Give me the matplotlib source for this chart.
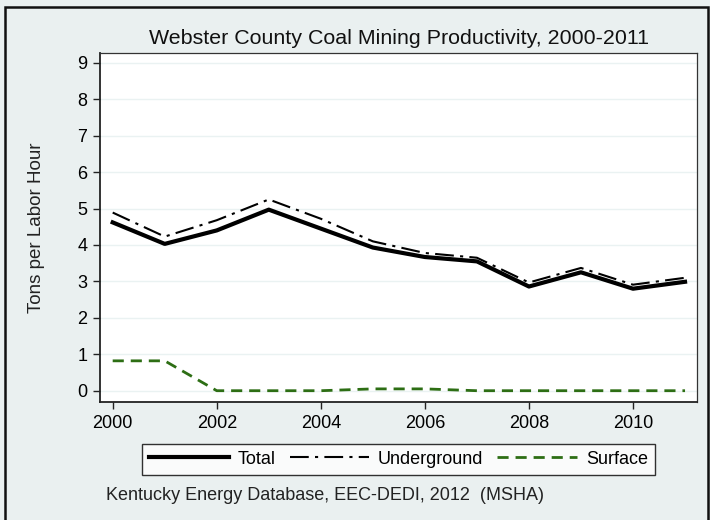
"""Webster County coal mining productivity chart."""

import matplotlib
matplotlib.use("Agg")
import matplotlib.pyplot as plt
from matplotlib.patches import Rectangle

years = [2000, 2001, 2002, 2003, 2004, 2005, 2006, 2007, 2008, 2009, 2010, 2011]
total = [4.62, 4.03, 4.40, 4.97, 4.45, 3.93, 3.67, 3.55, 2.86, 3.25, 2.80, 2.99]
underground = [4.89, 4.23, 4.68, 5.25, 4.72, 4.10, 3.78, 3.65, 2.97, 3.37, 2.91, 3.10]
surface = [0.82, 0.82, 0.0, 0.0, 0.0, 0.05, 0.05, 0.0, 0.0, 0.0, 0.0, 0.0]

y_ticks = list(range(0, 10))
x_ticks = [2000, 2002, 2004, 2006, 2008, 2010]

plt.rcParams["font.family"] = ["Liberation Sans", "DejaVu Sans"]

W, H = 710, 520
bg = "#eaf0f0"
fig = plt.figure(figsize=(W / 100, H / 100), dpi=100, facecolor=bg)

# outer frame
fig.patches.append(Rectangle((5 / W, -0.02), 703 / W, 1.02 - 7 / H, transform=fig.transFigure,
                             fill=False, edgecolor="#111111", linewidth=1.8))

ax = fig.add_axes([100 / W, 118 / H, 597 / W, 349 / H])
ax.set_facecolor("white")

for y in y_ticks:
    ax.axhline(y, color="#eaf2f2", linewidth=1.0, zorder=0)

ax.plot(years, total, color="black", linewidth=3.0, label="Total", solid_joinstyle="round")
ax.plot(years, underground, color="black", linewidth=1.5, dashes=(9, 3, 1.5, 3), label="Underground")
ax.plot(years, surface, color="#2d6e14", linewidth=2.0, dashes=(4, 2.5), label="Surface")

ax.set_xlim(1999.756, 2011.23)
ax.set_ylim(-0.31, 9.27)
ax.set_xticks(x_ticks)
ax.set_yticks(y_ticks)
ax.tick_params(axis="both", direction="out", length=5, width=1, color="#222222", labelsize=13, pad=4)

for side in ("left", "bottom"):
    ax.spines[side].set_color("#222222")
    ax.spines[side].set_linewidth(1.3)
for side in ("top", "right"):
    ax.spines[side].set_color("#333333")
    ax.spines[side].set_linewidth(0.9)

ax.set_ylabel("Tons per Labor Hour", fontsize=13.5, color="#222222")
ax.yaxis.set_label_coords(-55 / 597, 0.5)

fig.text(399 / W, 1 - 39 / H, "Webster County Coal Mining Productivity, 2000-2011",
         ha="center", va="center", fontsize=15.4, color="#111111")

leg = fig.legend(loc="lower left", bbox_to_anchor=(142 / W, 1 - 475 / H, 513 / W, 33 / H),
                 mode="expand", ncol=3, fontsize=13, frameon=True, fancybox=False,
                 edgecolor="black", handlelength=4.4, handletextpad=0.5, borderaxespad=0,
                 columnspacing=1.2, borderpad=0.4)
leg.get_frame().set_linewidth(1.0)
leg.get_frame().set_facecolor("white")

fig.text(106 / W, 1 - 496 / H, "Kentucky Energy Database, EEC-DEDI, 2012  (MSHA)",
         ha="left", va="center", fontsize=13, color="#222222")

fig.savefig("out.png", dpi=100, facecolor=bg)
